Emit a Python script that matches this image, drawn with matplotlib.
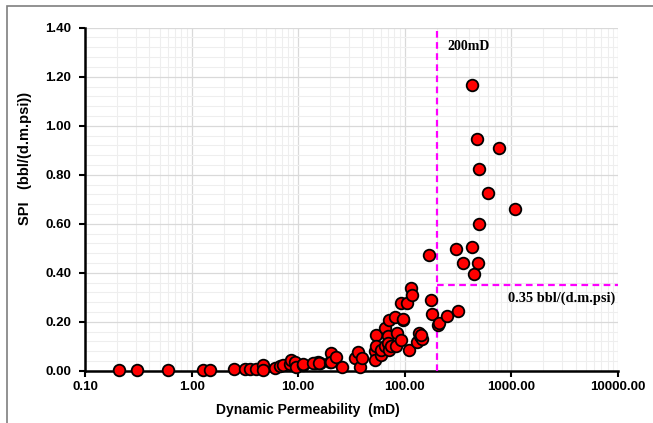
import numpy as np
import matplotlib
matplotlib.use("Agg")
import matplotlib.pyplot as plt
from matplotlib.ticker import FixedLocator, FuncFormatter, LogLocator, MultipleLocator
from matplotlib.patches import Rectangle

# dynamic permeability (mD) and SPI (bbl/(d.m.psi))
perm = [0.21, 0.305, 0.60, 1.27, 1.49, 2.49, 3.17, 3.5, 4.0, 4.69, 4.69,
        6.0, 6.7, 7.2, 8.4, 8.65, 9.3, 9.5, 11.0, 11.2, 14.3, 15.4, 16.0,
        13.8, 15.7, 19.8, 20.1, 20.5, 22.4, 26.0, 34.1, 36.7, 37.8, 40.0,
        53.0, 53.3, 53.7, 53.0, 59.6, 60.0, 64.7, 65.8, 70.2, 70.2, 70.8,
        71.1, 74.9, 81.7, 82.0, 84.5, 93.0, 96.0, 109.5, 130.0, 138.0, 145.0,
        91.2, 105.0, 114.0, 118.0, 96.0, 169.0, 178.0, 179.0, 205.0, 210.0,
        250.0, 316.0, 302.0, 349.0, 424.0, 442.0, 490.0, 497.0, 603.0,
        497.0, 472.0, 759.0, 430.0, 1079.0, 135.0, 143.0]
spi = [0.003, 0.003, 0.003, 0.004, 0.004, 0.005, 0.005, 0.005, 0.008, 0.023, 0.003,
       0.012, 0.018, 0.023, 0.026, 0.044, 0.037, 0.016, 0.023, 0.027, 0.030, 0.037, 0.033,
       0.030, 0.033, 0.037, 0.071, 0.037, 0.055, 0.016, 0.051, 0.078, 0.016, 0.051,
       0.081, 0.144, 0.099, 0.044, 0.064, 0.085, 0.099, 0.174, 0.140, 0.112, 0.085,
       0.207, 0.099, 0.220, 0.099, 0.152, 0.126, 0.208, 0.085, 0.119, 0.140, 0.131,
       0.277, 0.278, 0.337, 0.310, 0.211, 0.471, 0.290, 0.232, 0.185, 0.195,
       0.222, 0.245, 0.495, 0.441, 0.506, 0.393, 0.440, 0.597, 0.727,
       0.824, 0.946, 0.910, 1.166, 0.658, 0.153, 0.147]

x_ticks = [0.1, 1, 10, 100, 1000, 10000]
y_ticks = [0.0, 0.2, 0.4, 0.6, 0.8, 1.0, 1.2, 1.4]
k_cut = 200
spi_cut = 0.35

W, H = 653, 423
fig = plt.figure(figsize=(W / 100, H / 100), dpi=100)
ax = fig.add_axes([85 / W, 1 - 370.7 / H, 533 / W, 343 / H])

# frame around the whole picture
fig.patches.append(Rectangle((7 / W, -0.1), 1.2, (H - 6) / H + 0.1,
                             transform=fig.transFigure, fill=False,
                             edgecolor="#7f7f7f", lw=1.2))

ax.set_xscale("log")
ax.set_xlim(0.1, 10000)
ax.set_ylim(0, 1.4)

ax.xaxis.set_major_locator(FixedLocator(x_ticks))
ax.xaxis.set_minor_locator(LogLocator(base=10, subs=np.arange(2, 10)))
ax.xaxis.set_major_formatter(FuncFormatter(lambda v, p: f"{v:.2f}"))
ax.xaxis.set_minor_formatter(FuncFormatter(lambda v, p: ""))
ax.yaxis.set_major_locator(FixedLocator(y_ticks))
ax.yaxis.set_minor_locator(MultipleLocator(0.04))
ax.yaxis.set_major_formatter(FuncFormatter(lambda v, p: f"{v:.2f}"))

ax.grid(which="major", color="#d9d9d9", lw=0.9)
ax.grid(which="minor", color="#eeeeee", lw=0.8)
ax.set_axisbelow(True)

for s in ["top", "right"]:
    ax.spines[s].set_visible(False)
for s in ["left", "bottom"]:
    ax.spines[s].set_linewidth(1.8)
    ax.spines[s].set_zorder(2)

ax.tick_params(which="major", length=4, width=1.5, direction="out")
ax.tick_params(axis="y", which="major", pad=6)
ax.tick_params(which="minor", length=0)
for lab in ax.get_xticklabels() + ax.get_yticklabels():
    lab.set_fontfamily("Liberation Sans")
    lab.set_fontweight("bold")
    lab.set_fontsize(9.5)

ax.axvline(k_cut, ymin=0, ymax=1, color="#ff00ff", ls=(0, (3, 2)), lw=1.6, zorder=3)
ax.plot([k_cut, 10000], [spi_cut, spi_cut], color="#ff00ff", ls=(0, (3, 2)), lw=1.6,
        zorder=3, clip_on=False)

ax.scatter(perm, spi, s=70, facecolor="#ff0000", edgecolor="black", linewidth=1.3,
           zorder=4, clip_on=False)

ax.text(250, 1.325, "200mD", fontfamily="Liberation Serif", fontweight="bold",
        fontsize=10, va="center", ha="left")
ax.text(9500, 0.295, "0.35 bbl/(d.m.psi)", fontfamily="Liberation Serif",
        fontweight="bold", fontsize=10.4, va="center", ha="right")

ax.set_xlabel("Dynamic Permeability  (mD)", fontfamily="Liberation Sans",
              fontweight="bold", fontsize=10)
ax.xaxis.set_label_coords(0.418, -0.095)
ax.set_ylabel("SPI   (bbl/(d.m.psi))", fontfamily="Liberation Sans",
              fontweight="bold", fontsize=10.5)
ax.yaxis.set_label_coords(-0.1, 0.62)

fig.savefig("out.png", dpi=100)
